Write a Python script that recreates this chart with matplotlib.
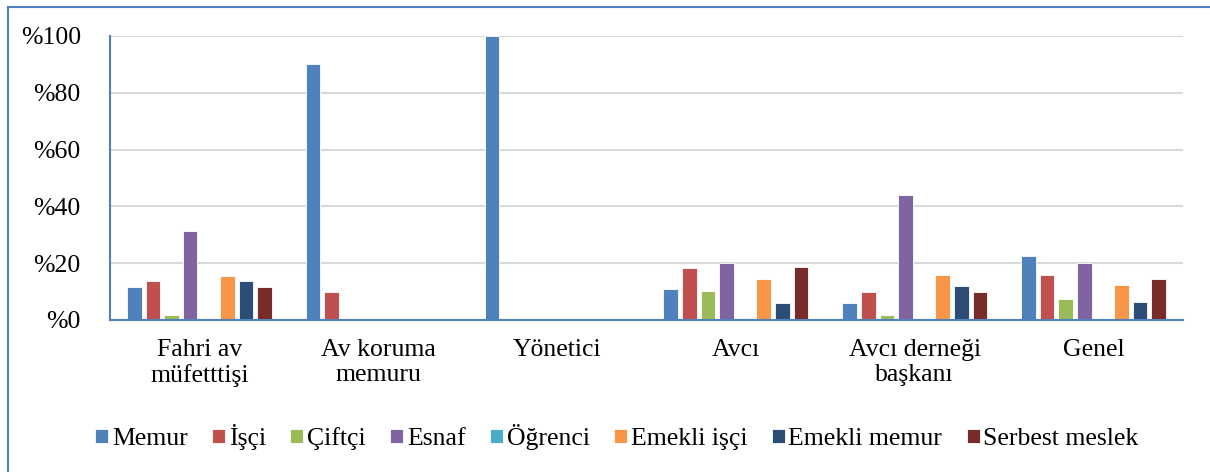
import matplotlib
matplotlib.use("Agg")
import matplotlib.pyplot as plt
import numpy as np
from matplotlib.lines import Line2D

categories = ["Fahri av\nmüfetttişi", "Av koruma\nmemuru", "Yönetici", "Avcı",
              "Avcı derneği\nbaşkanı", "Genel"]
series_names = ["Memur", "İşçi", "Çiftçi", "Esnaf", "Öğrenci", "Emekli işçi",
                "Emekli memur", "Serbest meslek"]
memur = [11.7, 90.0, 100.0, 10.8, 5.9, 22.5]
isci = [13.7, 9.9, 0, 18.4, 9.9, 15.8]
ciftci = [1.9, 0, 0, 10.2, 1.9, 7.3]
esnaf = [31.3, 0, 0, 20.0, 44.0, 20.0]
ogrenci = [0, 0, 0, 0.8, 0, 0.5]
emekli_isci = [15.6, 0, 0, 14.4, 15.8, 12.3]
emekli_memur = [13.7, 0, 0, 6.0, 11.8, 6.2]
serbest = [11.7, 0, 0, 18.8, 9.9, 14.4]
yticks = [0, 20, 40, 60, 80, 100]
ytick_labels = ["%0", "%20", "%40", "%60", "%80", "%100"]

series = [memur, isci, ciftci, esnaf, ogrenci, emekli_isci, emekli_memur, serbest]
colors = ["#4F81BD", "#C0504D", "#9BBB59", "#8064A2", "#4BACC6", "#F79646",
          "#2C4D75", "#772C2A"]

plt.rcParams['font.family'] = ['Liberation Serif', 'DejaVu Serif']

fig = plt.figure(figsize=(12.1, 4.72), dpi=100)
ax = fig.add_axes([110/1210, 1-320/472, (1183-110)/1210, (320-36)/472])

x = np.arange(len(categories))
slot = 0.104
width = 0.082
for i, (vals, c, name) in enumerate(zip(series, colors, series_names)):
    ax.bar(x + (i - 3.5) * slot, vals, width=width, color=c, label=name,
           edgecolor="white", linewidth=0.6, zorder=3)

ax.set_xlim(-0.5, len(categories) - 0.5)
ax.set_ylim(0, 100)
ax.set_yticks(yticks)
ax.set_yticklabels(ytick_labels, fontsize=18.5)
ax.set_xticks(x)
ax.set_xticklabels(categories, fontsize=18.5, linespacing=1.15)
ax.tick_params(axis='both', length=0)
ax.tick_params(axis='y', pad=21)
ax.tick_params(axis='x', pad=14)
ax.grid(axis='y', color="#D9D9D9", linewidth=1.5, zorder=0)
for s in ["top", "right"]:
    ax.spines[s].set_visible(False)
ax.spines["left"].set_color("#4F81BD")
ax.spines["bottom"].set_color("#4F81BD")
ax.spines["left"].set_linewidth(1.5)
ax.spines["bottom"].set_linewidth(1.5)
ax.spines["bottom"].set_zorder(4)

handles, labels = ax.get_legend_handles_labels()
fig.legend(handles, labels, loc="center", bbox_to_anchor=(617/1210, 1-437/472),
           ncol=8, frameon=False, fontsize=18.5, handlelength=0.5,
           handleheight=0.5, handletextpad=0.15, columnspacing=0.95,
           borderpad=0)

# outer frame (top and left visible)
fig.add_artist(Line2D([8/1210, 1.0], [1-6.5/472, 1-6.5/472], color="#4F81BD",
                      linewidth=1.5, transform=fig.transFigure))
fig.add_artist(Line2D([8/1210, 8/1210], [0, 1-6.5/472], color="#4F81BD",
                      linewidth=1.5, transform=fig.transFigure))

fig.savefig("out.png", dpi=100)
